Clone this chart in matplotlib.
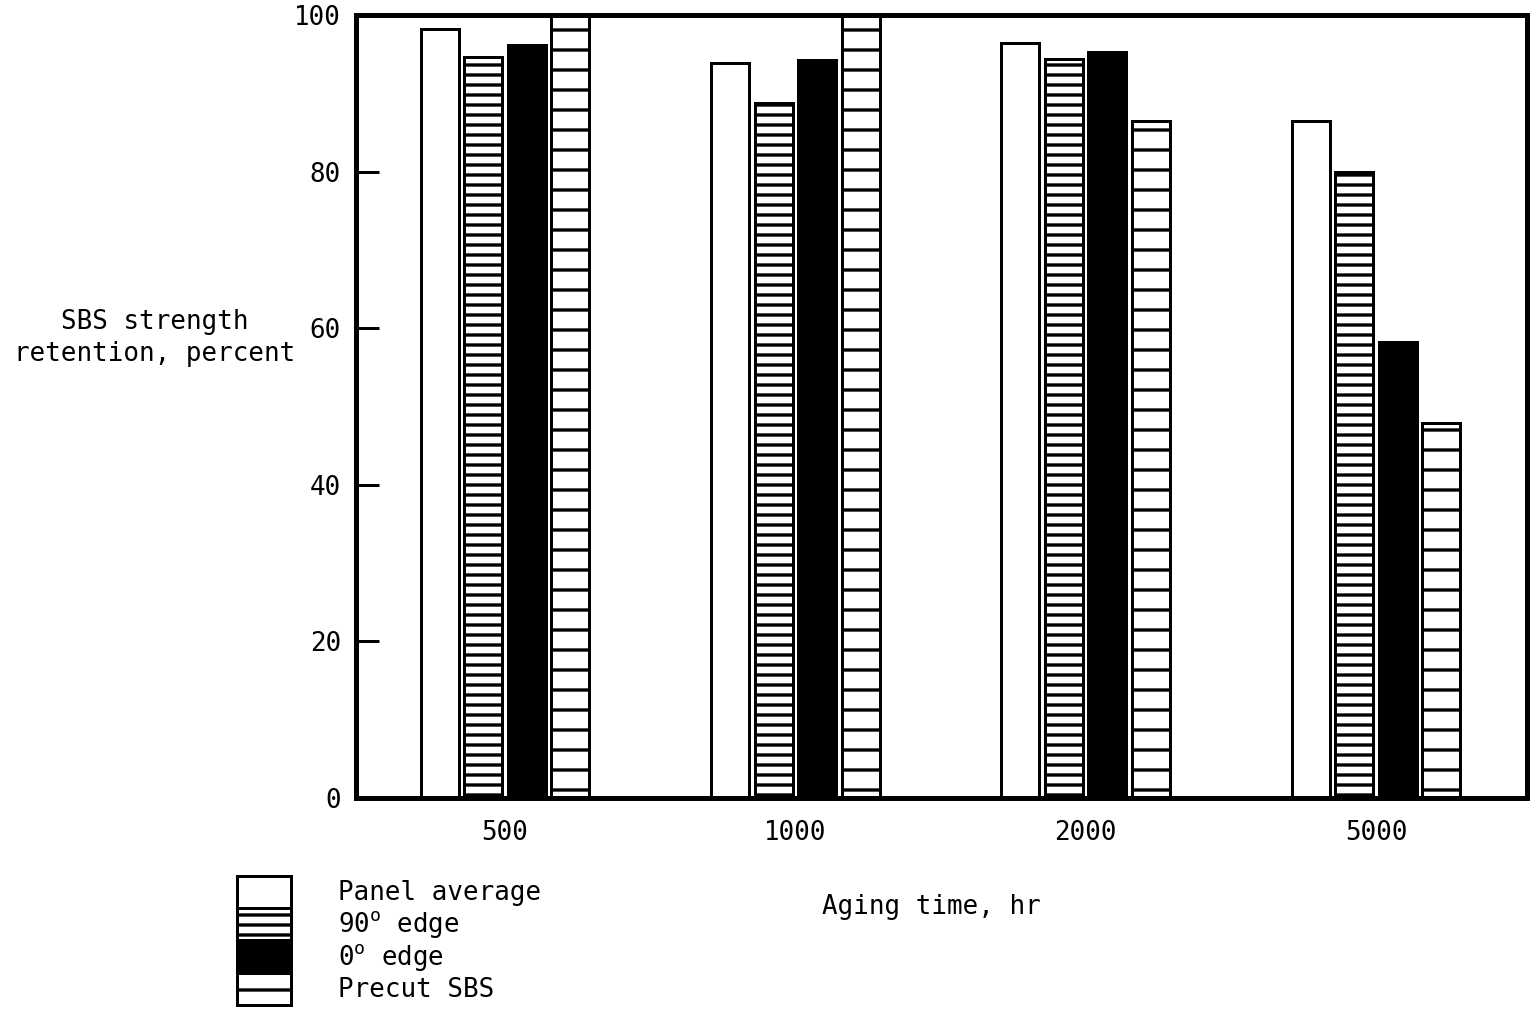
import matplotlib
matplotlib.use("Agg")
import matplotlib.pyplot as plt
import numpy as np

# ---- data ----
aging_times = ["500", "1000", "2000", "5000"]
series_names = ["Panel average", "90$^{\\mathrm{o}}$ edge", "0$^{\\mathrm{o}}$ edge", "Precut SBS"]
panel_average = [98.2, 93.9, 96.4, 86.5]
edge_90 = [94.6, 88.8, 94.4, 80.0]
edge_0 = [96.2, 94.3, 95.3, 58.2]
precut_sbs = [101.0, 101.0, 86.5, 47.9]
y_ticks = [0, 20, 40, 60, 80, 100]

plt.rcParams['font.family'] = ['DejaVu Sans Mono', 'DejaVu Sans']
plt.rcParams['mathtext.fontset'] = 'custom'
plt.rcParams['mathtext.rm'] = 'DejaVu Sans Mono'
plt.rcParams['mathtext.it'] = 'DejaVu Sans Mono'
plt.rcParams['hatch.linewidth'] = 2.0
plt.rcParams['hatch.color'] = 'black'

FS = 15.5
fig = plt.figure(figsize=(12.75, 8.425), dpi=120)
ax = fig.add_axes([356/1530, 1-798/1011, (1527-356)/1530, (798-15)/1011])

series = [panel_average, edge_90, edge_0, precut_sbs]
styles = [
    dict(facecolor='white', hatch=None),
    dict(facecolor='white', hatch='--'),
    dict(facecolor='black', hatch=None),
    dict(facecolor='white', hatch='-'),
]
x = np.arange(len(aging_times))
step = 0.15
width = 0.131
handles = []
for j, (vals, st) in enumerate(zip(series, styles)):
    b = ax.bar(x + (j - 1.5) * step, vals, width, facecolor=st['facecolor'],
               hatch=st['hatch'], edgecolor='black', linewidth=1.8,
               label=series_names[j], zorder=2)
    handles.append(b)

ax.set_xlim(-0.513, 3.52)
ax.set_ylim(0, 100)
ax.set_yticks(y_ticks)
ax.set_yticklabels([str(v) for v in y_ticks], fontsize=FS)
ax.set_xticks(x)
ax.set_xticklabels(aging_times, fontsize=FS)
ax.tick_params(axis='y', direction='in', length=14, width=1.8, pad=9)
ax.tick_params(axis='x', length=0, pad=13)
for s in ax.spines.values():
    s.set_linewidth(3)
    s.set_zorder(5)

fig.text(155/1530, 1-338/1011, "SBS strength\nretention, percent", ha='center',
         va='center', fontsize=FS, multialignment='center', linespacing=1.3)
fig.text(931/1530, 1-907/1011, "Aging time, hr", ha='center', va='center', fontsize=FS)

fig.legend(handles=handles, labels=series_names, loc='upper left',
           bbox_to_anchor=(237/1530, 1-876/1011), frameon=False, borderpad=0,
           borderaxespad=0, handlelength=2.1, handleheight=1.52,
           handletextpad=1.8, labelspacing=0.0, fontsize=FS)

fig.savefig("out.png", dpi=120)
